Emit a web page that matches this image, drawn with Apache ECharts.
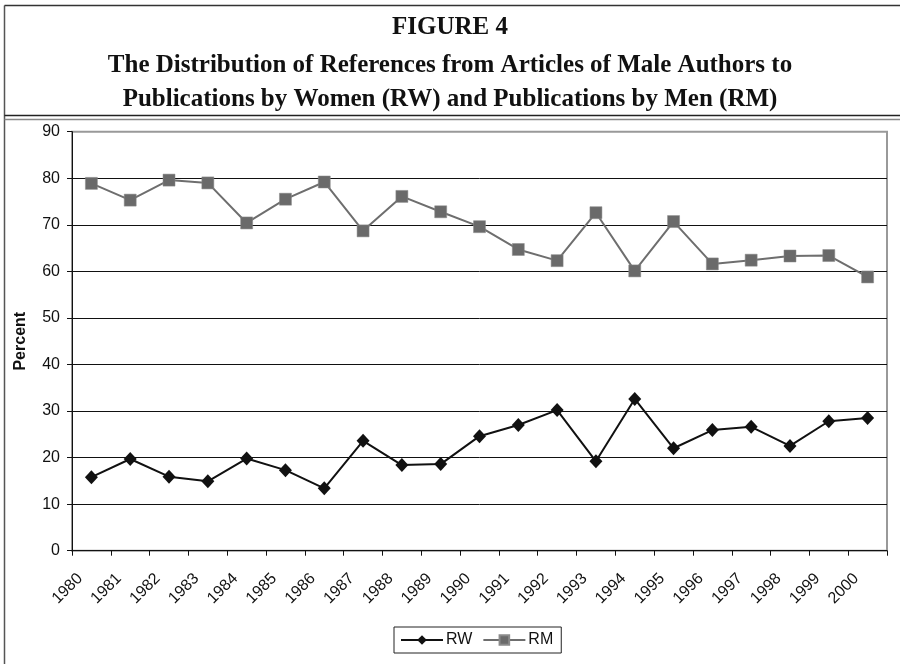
<!DOCTYPE html>
<html>
<head>
<meta charset="utf-8">
<script src="https://cdn.jsdelivr.net/npm/echarts@6/dist/echarts.min.js"></script>
<style>
  html, body { margin: 0; padding: 0; background: #fff; }
  #chart { width: 900px; height: 664px; }
</style>
</head>
<body>
<div id="chart"></div>
<script>
// Publication years along the x axis
const years = ['1980', '1981', '1982', '1983', '1984', '1985', '1986', '1987', '1988', '1989', '1990',
               '1991', '1992', '1993', '1994', '1995', '1996', '1997', '1998', '1999', '2000'];

// Share of references to publications by women (RW), percent
const rwValues = [15.8, 19.7, 15.9, 14.9, 19.8, 17.3, 13.4, 23.6, 18.4, 18.6, 24.6,
                  27.0, 30.2, 19.2, 32.6, 22.0, 25.9, 26.6, 22.5, 27.8, 28.5];

// Share of references to publications by men (RM), percent
const rmValues = [78.9, 75.3, 79.6, 79.0, 70.4, 75.5, 79.2, 68.7, 76.1, 72.8, 69.6,
                  64.7, 62.3, 72.6, 60.1, 70.7, 61.6, 62.4, 63.3, 63.4, 58.8];

const yTicks = { min: 0, max: 90, step: 10 };

const figureLabel = 'FIGURE 4';
const captionLines = [
  'The Distribution of References from Articles of Male Authors to',
  'Publications by Women (RW) and Publications by Men (RM)'
];

const sans = 'Liberation Sans, Arial, sans-serif';
const serif = 'Liberation Serif, Times New Roman, serif';

const headingStyle = {
  fontFamily: serif,
  fontWeight: 'bold',
  fontSize: 25,
  color: '#111'
};

const chart = echarts.init(document.getElementById('chart'), null, { renderer: 'canvas' });

chart.setOption({
  backgroundColor: '#fff',
  animation: false,
  title: [
    {
      text: figureLabel,
      left: 'center',
      top: 13,
      padding: 0,
      textStyle: Object.assign({}, headingStyle, { lineHeight: 30 })
    },
    {
      text: captionLines.join('\n'),
      left: 'center',
      top: 49,
      padding: 0,
      textStyle: Object.assign({}, headingStyle, { lineHeight: 34 })
    }
  ],
  graphic: [
    // frame around the figure and the double rule under the heading
    { type: 'line', shape: { x1: 4.5, y1: 5.5, x2: 4.5, y2: 664 }, style: { stroke: '#555', lineWidth: 1.5 } },
    { type: 'line', shape: { x1: 4.5, y1: 5.5, x2: 900, y2: 5.5 }, style: { stroke: '#333', lineWidth: 1.5 } },
    { type: 'line', shape: { x1: 4.5, y1: 115.5, x2: 900, y2: 115.5 }, style: { stroke: '#222', lineWidth: 1.5 } },
    { type: 'line', shape: { x1: 4.5, y1: 119.5, x2: 900, y2: 119.5 }, style: { stroke: '#888', lineWidth: 1.5 } }
  ],
  grid: {
    left: 72,
    right: 13,
    top: 131.7,
    bottom: 113.3,
    show: true,
    borderColor: '#999',
    borderWidth: 2,
    backgroundColor: 'transparent',
    containLabel: false
  },
  legend: {
    top: 627,
    left: 394,
    data: ['RW', 'RM'],
    orient: 'horizontal',
    itemWidth: 42,
    itemHeight: 12,
    itemGap: 10,
    padding: [5, 8, 5, 6],
    borderColor: '#222',
    borderWidth: 1,
    borderRadius: 0,
    textStyle: { fontFamily: sans, fontSize: 16, color: '#111', padding: [0, 0, 0, -2] }
  },
  xAxis: {
    type: 'category',
    data: years,
    boundaryGap: true,
    axisLine: { lineStyle: { color: '#111', width: 1 } },
    axisTick: { show: true, length: 5, inside: false, lineStyle: { color: '#111' } },
    axisLabel: {
      rotate: 45,
      margin: 14,
      interval: 0,
      fontFamily: sans,
      fontSize: 16,
      color: '#111',
      padding: [0, 16, 0, 0]
    },
    splitLine: { show: false }
  },
  yAxis: {
    type: 'value',
    min: yTicks.min,
    max: yTicks.max,
    interval: yTicks.step,
    name: 'Percent',
    nameLocation: 'middle',
    nameRotate: 90,
    nameGap: 43,
    nameTextStyle: { fontFamily: sans, fontSize: 16, fontWeight: 'bold', color: '#111' },
    axisLine: { show: true, lineStyle: { color: '#111', width: 1 } },
    axisTick: { show: true, length: 5, inside: false, lineStyle: { color: '#111' } },
    axisLabel: { fontFamily: sans, fontSize: 16, color: '#111', margin: 12 },
    splitLine: { show: true, showMaxLine: false, lineStyle: { color: '#111', width: 1 } }
  },
  series: [
    {
      name: 'RW',
      type: 'line',
      data: rwValues,
      symbol: 'diamond',
      symbolSize: [13, 14],
      lineStyle: { color: '#111', width: 2 },
      itemStyle: { color: '#111' },
      z: 3
    },
    {
      name: 'RM',
      type: 'line',
      data: rmValues,
      symbol: 'rect',
      symbolSize: 12,
      lineStyle: { color: '#6e6e6e', width: 2 },
      itemStyle: { color: '#6a6a6a', borderColor: '#8a8a8a', borderWidth: 0.5 },
      z: 3
    }
  ]
});
</script>
</body>
</html>
